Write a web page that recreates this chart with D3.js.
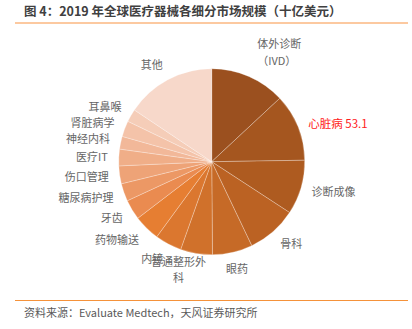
<!DOCTYPE html>
<html>
<head>
<meta charset="utf-8">
<script src="https://cdn.jsdelivr.net/npm/d3@7"></script>
<style>
  html, body { margin: 0; padding: 0; background: #fff; }
  svg { display: block; font-family: "Noto Sans CJK SC", "Noto Sans", sans-serif; }
</style>
</head>
<body>
<svg id="chart" width="412" height="329"></svg>
<script>
// 2019 global medical device market by segment (USD bn), clockwise from 12 o'clock
const categories = ["体外诊断\n（IVD）", "心脏病", "诊断成像", "骨科", "眼药", "普通整形外科",
  "内镜", "药物输送", "牙齿", "糖尿病护理", "伤口管理", "医疗IT", "神经内科", "肾脏病学", "耳鼻喉", "其他"];
const values = [59.4, 53.1, 43.0, 39.6, 31.6, 25.2, 21.1, 20.7, 15.9, 14.0, 14.1, 13.1, 10.1, 12.5, 10.2, 71.0];
const colors = ["#9b501f", "#a5561f", "#ae5b20", "#bb6223", "#c66a27", "#d0712b",
  "#db772f", "#e67e32", "#ea8b50", "#ec9865", "#eea377", "#f0ae88", "#f2b899", "#f4c3a9", "#f5cdb8", "#f7d8ca"];
const highlighted = "心脏病";

const svg = d3.select("#chart");

// header
svg.append("text")
  .attr("x", 24).attr("y", 16)
  .attr("font-size", 12.5).attr("font-weight", "bold").attr("fill", "#404040")
  .text("图 4：2019 年全球医疗器械各细分市场规模（十亿美元）");
svg.append("line")
  .attr("x1", 15).attr("x2", 408).attr("y1", 23).attr("y2", 23)
  .attr("stroke", "#fcc9a0").attr("stroke-width", 2);

// footer
svg.append("line")
  .attr("x1", 15).attr("x2", 408).attr("y1", 300.5).attr("y2", 300.5)
  .attr("stroke", "#f5923a").attr("stroke-width", 1.2);
svg.append("text")
  .attr("x", 24).attr("y", 317)
  .attr("font-size", 11).attr("fill", "#5a5a5a")
  .text("资料来源：Evaluate Medtech，天风证券研究所");

// pie
const cx = 211.7, cy = 161.7, r = 93;
const data = categories.map((c, i) => ({ name: c, value: values[i], color: colors[i] }));
const pie = d3.pie().value(d => d.value).sort(null);
const arcs = pie(data);
const arc = d3.arc().innerRadius(0).outerRadius(r);

const g = svg.append("g").attr("transform", `translate(${cx},${cy})`);
g.selectAll("path.slice")
  .data(arcs)
  .join("path")
  .attr("class", "slice")
  .attr("d", arc)
  .attr("fill", d => d.data.color)
  .attr("stroke", "rgba(255,255,255,0.45)")
  .attr("stroke-width", 0.6);

// outside labels: x from a tighter ring, y from a wider ring
const labelArcX = d3.arc().innerRadius(104).outerRadius(104);
const labelArcY = d3.arc().innerRadius(110).outerRadius(110);
const nudge = { "体外诊断\n（IVD）": [4, -8], "心脏病": [0, 3], "普通整形外科": [-16, 0], "眼药": [-9, 0] };
const lineH = 16.5;

arcs.forEach(d => {
  const mid = (d.startAngle + d.endAngle) / 2;
  const x = labelArcX.centroid(d)[0];
  const y = labelArcY.centroid(d)[1];
  const name = d.data.name;
  const [nx, ny] = nudge[name] || [0, 0];
  const isHi = name === highlighted;
  let lines = name.split("\n");
  let anchor = Math.sin(mid) >= 0 ? "start" : "end";
  if (name === "普通整形外科") { lines = ["普通整形外", "科"]; anchor = "middle"; }
  if (isHi) lines = [`${name} ${d.data.value}`];
  const t = g.append("text")
    .attr("text-anchor", anchor)
    .attr("font-size", isHi ? 11.5 : 11)
    .attr("fill", isHi ? "#ff2020" : "#666666");
  const y0 = y + ny - (lines.length - 1) * lineH / 2;
  lines.forEach((ln, i) => {
    t.append("tspan")
      .attr("x", x + nx)
      .attr("y", y0 + i * lineH)
      .attr("dy", "0.35em")
      .text(ln);
  });
});
</script>
</body>
</html>
